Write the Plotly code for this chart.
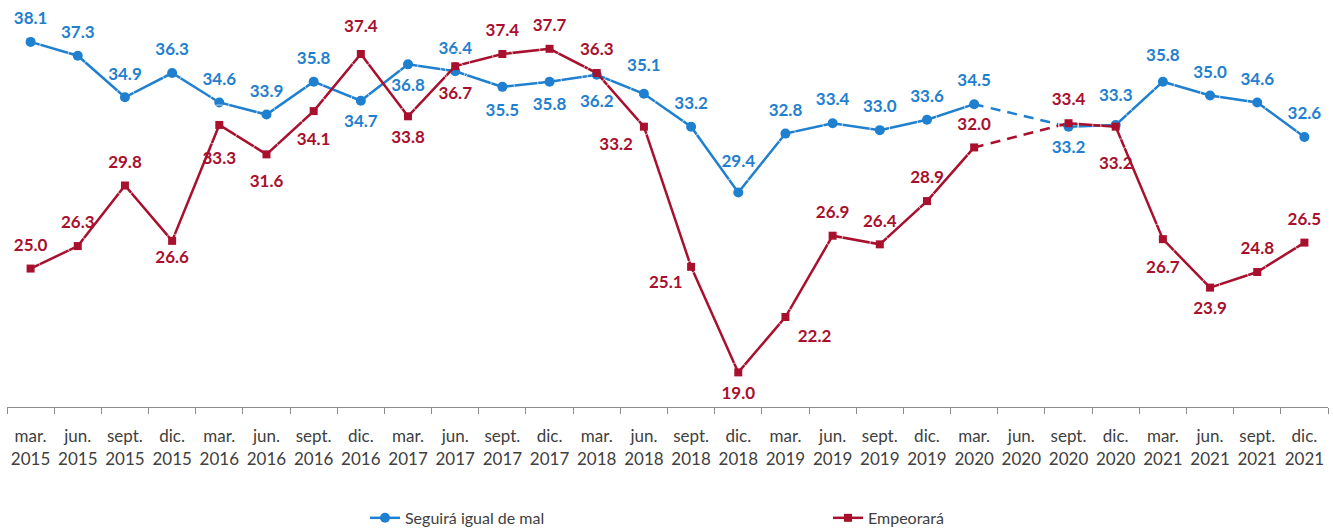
import plotly.graph_objects as go

months = ["mar.", "jun.", "sept.", "dic."]
years = [2015, 2016, 2017, 2018, 2019, 2020, 2021]
categories = [f"{m}<br>{y}" for y in years for m in months]

seguira = [38.1, 37.3, 34.9, 36.3, 34.6, 33.9, 35.8, 34.7, 36.8, 36.4, 35.5, 35.8,
           36.2, 35.1, 33.2, 29.4, 32.8, 33.4, 33.0, 33.6, 34.5, None, 33.2, 33.3,
           35.8, 35.0, 34.6, 32.6]
empeorara = [25.0, 26.3, 29.8, 26.6, 33.3, 31.6, 34.1, 37.4, 33.8, 36.7, 37.4, 37.7,
             36.3, 33.2, 25.1, 19.0, 22.2, 26.9, 26.4, 28.9, 32.0, None, 33.4, 33.2,
             26.7, 23.9, 24.8, 26.5]

# label placement (style only)
seg_pos = ["top center"] * 28
for i in [7, 8, 10, 11, 12, 22]:
    seg_pos[i] = "bottom center"
seg_gap = [20] * 28
for i, s in {10: 24, 11: 24, 12: 30, 13: 28, 15: 32, 23: 30, 24: 24}.items():
    seg_gap[i] = s

emp_pos = ["top center"] * 28
for i in [3, 4, 5, 6, 8, 9, 15, 23, 24, 25]:
    emp_pos[i] = "bottom center"
emp_pos[13] = "bottom left"
emp_pos[14] = "bottom left"
emp_pos[16] = "bottom right"
emp_gap = [20] * 28
for i, s in {3: 14, 4: 40, 5: 30, 6: 32, 7: 26, 9: 30, 13: 16, 14: 12, 16: 18, 23: 46, 24: 32}.items():
    emp_gap[i] = s

BLUE = "#1F80CF"
RED = "#A8102E"
FONT = "Lato"

def fmt(v):
    return "" if v is None else f"{v:.1f}"

fig = go.Figure()

# dashed bridge over the missing quarter
gap = [20, 22]
fig.add_trace(go.Scatter(x=[categories[i] for i in gap], y=[seguira[i] for i in gap],
                         mode="lines", line=dict(color=BLUE, width=2.5, dash="10px,7px"),
                         showlegend=False, hoverinfo="skip"))
fig.add_trace(go.Scatter(x=[categories[i] for i in gap], y=[empeorara[i] for i in gap],
                         mode="lines", line=dict(color=RED, width=2.5, dash="10px,7px"),
                         showlegend=False, hoverinfo="skip"))

fig.add_trace(go.Scatter(x=categories, y=seguira, name="Seguirá igual de mal",
                         mode="lines+markers",
                         line=dict(color=BLUE, width=2.5),
                         marker=dict(symbol="circle", size=10, color=BLUE),
                         connectgaps=False))
fig.add_trace(go.Scatter(x=categories, y=empeorara, name="Empeorará",
                         mode="lines+markers",
                         line=dict(color=RED, width=2.5),
                         marker=dict(symbol="square", size=8, color=RED),
                         connectgaps=False))

# data labels (invisible markers only set the label distance)
fig.add_trace(go.Scatter(x=categories, y=seguira, mode="markers+text", showlegend=False,
                         hoverinfo="skip",
                         marker=dict(size=seg_gap, color="rgba(0,0,0,0)"),
                         text=[fmt(v) for v in seguira], textposition=seg_pos,
                         textfont=dict(color=BLUE, size=17, family=FONT, weight="bold"),
                         cliponaxis=False))
fig.add_trace(go.Scatter(x=categories, y=empeorara, mode="markers+text", showlegend=False,
                         hoverinfo="skip",
                         marker=dict(size=emp_gap, color="rgba(0,0,0,0)"),
                         text=[fmt(v) for v in empeorara], textposition=emp_pos,
                         textfont=dict(color=RED, size=17, family=FONT, weight="bold"),
                         cliponaxis=False))

fig.update_layout(
    width=1333, height=529,
    margin=dict(l=7, r=5, t=9, b=122, autoexpand=False),
    paper_bgcolor="white", plot_bgcolor="white",
    font=dict(family=FONT, color="#404040", size=16),
    hovermode=False,
    xaxis=dict(type="category", categoryorder="array", categoryarray=categories,
               showgrid=False, showline=True, linecolor="#8C8C8C", linewidth=1,
               ticks="outside", tickson="boundaries", ticklen=6, tickcolor="#8C8C8C",
               ticklabelstandoff=14, automargin=False, tickangle=0,
               tickfont=dict(size=17, color="#404040"), range=[-0.5, 27.5]),
    yaxis=dict(range=[17.0, 40.0], visible=False, automargin=False),
    legend=dict(orientation="h", x=0.271, xanchor="left", y=-0.236, yanchor="top",
                entrywidth=418, font=dict(size=16, color="#404040")),
)

fig.write_html("out.html", config={"displayModeBar": False},
               post_script="document.body.style.margin='0';")
